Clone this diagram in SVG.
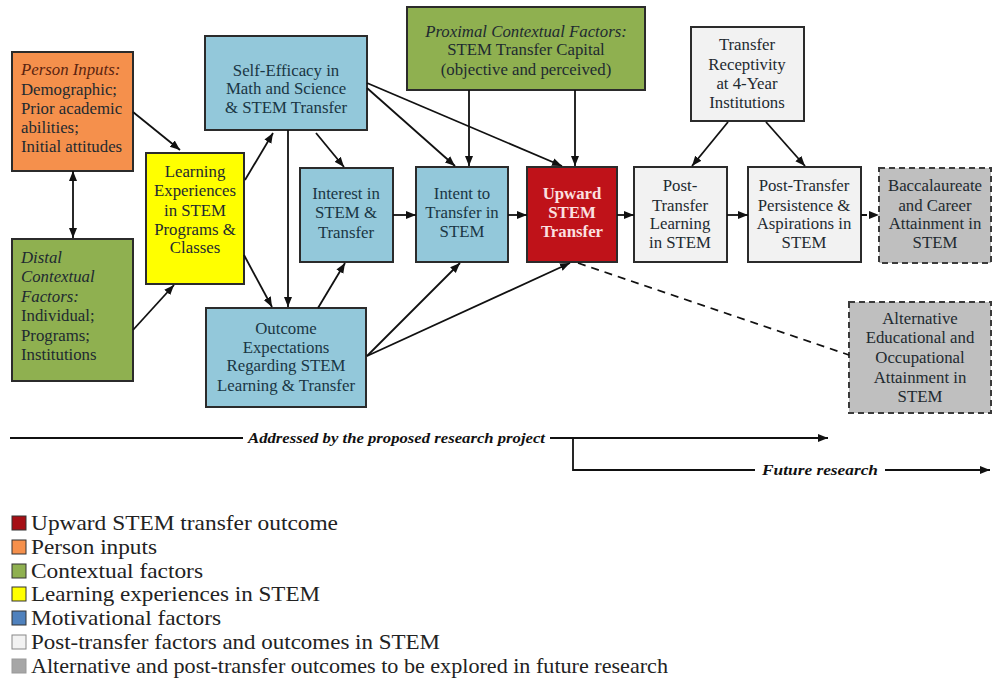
<svg xmlns="http://www.w3.org/2000/svg" width="993" height="698" viewBox="0 0 993 698">
<style>
.box{stroke:#2b2b2b;stroke-width:2}
.dash{stroke:#3a3a3a;stroke-width:2;stroke-dasharray:6,4}
.t{font-family:"Liberation Serif","Times New Roman",serif;font-size:16.8px;fill:#1e2a30}
.c{text-anchor:middle}
.i{font-style:italic}
.bt{fill:#1a3644}
.w{fill:#fbe0e0;font-weight:bold}
.ln{stroke:#111;stroke-width:1.8;fill:none}
.lg{font-family:"Liberation Serif","Times New Roman",serif;font-size:21px;fill:#222}
.rs{font-family:"Liberation Serif","Times New Roman",serif;font-size:15px;font-style:italic;font-weight:bold;fill:#111}
</style>
<defs>
<marker id="ah" viewBox="0 0 10 10" refX="10" refY="5" markerWidth="10" markerHeight="10" markerUnits="userSpaceOnUse" orient="auto-start-reverse">
<path d="M0,1 L10,5 L0,9 Z" fill="#111"/>
</marker>
</defs>
<rect width="993" height="698" fill="#fff"/>

<g id="person-inputs">
<rect class="box" x="12" y="52" width="121" height="119" fill="#f5904c"/>
<text class="t" x="21" y="75"><tspan class="i" fill="#5a2410">Person Inputs:</tspan><tspan x="21" y="95">Demographic;</tspan><tspan x="21" y="114">Prior academic</tspan><tspan x="21" y="133">abilities;</tspan><tspan x="21" y="152">Initial attitudes</tspan></text>
</g>

<g id="distal-factors">
<rect class="box" x="12" y="239" width="121" height="142" fill="#8fb050"/>
<text class="t" x="21" y="263"><tspan class="i">Distal</tspan><tspan class="i" x="21" y="282">Contextual</tspan><tspan class="i" x="21" y="302">Factors:</tspan><tspan x="21" y="321">Individual;</tspan><tspan x="21" y="341">Programs;</tspan><tspan x="21" y="360">Institutions</tspan></text>
</g>

<g id="learning-experiences">
<rect class="box" x="146" y="153" width="98" height="131" fill="#ffff00"/>
<text class="t c" x="195" y="177"><tspan x="195">Learning</tspan><tspan x="195" y="196">Experiences</tspan><tspan x="195" y="216">in STEM</tspan><tspan x="195" y="235">Programs &amp;</tspan><tspan x="195" y="253">Classes</tspan></text>
</g>

<g id="self-efficacy">
<rect class="box" x="205" y="36" width="162" height="94" fill="#93c8da"/>
<text class="t c bt" x="286" y="76"><tspan x="286">Self-Efficacy in</tspan><tspan x="286" y="94">Math and Science</tspan><tspan x="286" y="113">&amp; STEM Transfer</tspan></text>
</g>

<g id="proximal-factors">
<rect class="box" x="407" y="7" width="238" height="83" fill="#8fb050"/>
<text class="t c" x="526" y="37"><tspan class="i" x="526">Proximal Contextual Factors:</tspan><tspan x="526" y="55">STEM Transfer Capital</tspan><tspan x="526" y="75">(objective and perceived)</tspan></text>
</g>

<g id="interest">
<rect class="box" x="300" y="168" width="93" height="94" fill="#93c8da"/>
<text class="t c bt" x="346" y="199"><tspan x="346">Interest in</tspan><tspan x="346" y="218">STEM &amp;</tspan><tspan x="346" y="238">Transfer</tspan></text>
</g>

<g id="intent">
<rect class="box" x="416" y="167" width="92" height="95" fill="#93c8da"/>
<text class="t c bt" x="462" y="199"><tspan x="462">Intent to</tspan><tspan x="462" y="218">Transfer in</tspan><tspan x="462" y="237">STEM</tspan></text>
</g>

<g id="upward-transfer">
<rect class="box" x="527" y="167" width="90" height="95" fill="#bf1219"/>
<text class="t c w" x="572" y="199"><tspan x="572">Upward</tspan><tspan x="572" y="218">STEM</tspan><tspan x="572" y="237">Transfer</tspan></text>
</g>

<g id="outcome-expectations">
<rect class="box" x="206" y="308" width="160" height="99" fill="#93c8da"/>
<text class="t c bt" x="286" y="334"><tspan x="286">Outcome</tspan><tspan x="286" y="353">Expectations</tspan><tspan x="286" y="371">Regarding STEM</tspan><tspan x="286" y="391">Learning &amp; Transfer</tspan></text>
</g>

<g id="transfer-receptivity">
<rect class="box" x="691" y="27" width="113" height="94" fill="#f2f2f2"/>
<text class="t c" x="747" y="50"><tspan x="747">Transfer</tspan><tspan x="747" y="70">Receptivity</tspan><tspan x="747" y="89">at 4-Year</tspan><tspan x="747" y="108">Institutions</tspan></text>
</g>

<g id="post-transfer-learning">
<rect class="box" x="634" y="167" width="93" height="95" fill="#f2f2f2"/>
<text class="t c" x="680" y="191"><tspan x="680">Post-</tspan><tspan x="680" y="211">Transfer</tspan><tspan x="680" y="229">Learning</tspan><tspan x="680" y="248">in STEM</tspan></text>
</g>

<g id="post-transfer-persistence">
<rect class="box" x="748" y="167" width="113" height="95" fill="#f2f2f2"/>
<text class="t c" x="804" y="191"><tspan x="804">Post-Transfer</tspan><tspan x="804" y="211">Persistence &amp;</tspan><tspan x="804" y="229">Aspirations in</tspan><tspan x="804" y="248">STEM</tspan></text>
</g>

<g id="baccalaureate">
<rect class="dash" x="879" y="168" width="112" height="95" fill="#bfbfbf"/>
<text class="t c" x="935" y="191"><tspan x="935">Baccalaureate</tspan><tspan x="935" y="211">and Career</tspan><tspan x="935" y="229">Attainment in</tspan><tspan x="935" y="248">STEM</tspan></text>
</g>

<g id="alternative-attainment">
<rect class="dash" x="849" y="302" width="142" height="111" fill="#bfbfbf"/>
<text class="t c" x="920" y="324"><tspan x="920">Alternative</tspan><tspan x="920" y="343">Educational and</tspan><tspan x="920" y="363">Occupational</tspan><tspan x="920" y="383">Attainment in</tspan><tspan x="920" y="402">STEM</tspan></text>
</g>

<g id="connectors">
<path class="ln" d="M133,112 L180,150" marker-end="url(#ah)"/>
<path class="ln" d="M73,171 L73,238" marker-start="url(#ah)" marker-end="url(#ah)"/>
<path class="ln" d="M133,330 L174,285" marker-end="url(#ah)"/>
<path class="ln" d="M245,180 L273,133" marker-end="url(#ah)"/>
<path class="ln" d="M244,255 L272,307" marker-end="url(#ah)"/>
<path class="ln" d="M288,130 L288,307" marker-end="url(#ah)"/>
<path class="ln" d="M316,133 L344,167" marker-end="url(#ah)"/>
<path class="ln" d="M367,88 L455,166" marker-end="url(#ah)"/>
<path class="ln" d="M367,83 L562,166" marker-end="url(#ah)"/>
<path class="ln" d="M469,90 L469,166" marker-end="url(#ah)"/>
<path class="ln" d="M575,90 L575,166" marker-end="url(#ah)"/>
<path class="ln" d="M393,215 L416,215" marker-end="url(#ah)"/>
<path class="ln" d="M508,215 L527,215" marker-end="url(#ah)"/>
<path class="ln" d="M617,215 L634,215" marker-end="url(#ah)"/>
<path class="ln" d="M727,215 L748,215" marker-end="url(#ah)"/>
<path class="ln" d="M861,215 L879,215" stroke-dasharray="6,3" marker-end="url(#ah)"/>
<path class="ln" d="M728,122 L692,166" marker-end="url(#ah)"/>
<path class="ln" d="M766,122 L805,166" marker-end="url(#ah)"/>
<path class="ln" d="M318,308 L345,263" marker-end="url(#ah)"/>
<path class="ln" d="M367,356 L460,263" marker-end="url(#ah)"/>
<path class="ln" d="M367,356 L570,263" marker-end="url(#ah)"/>
<path class="ln" d="M578,263 L849,355" stroke-dasharray="8,6"/>
</g>

<g id="research-scope">
<path class="ln" d="M10,438 L243,438"/>
<text class="rs" x="248" y="443" textLength="297" lengthAdjust="spacingAndGlyphs">Addressed by the proposed research project</text>
<path class="ln" d="M550,438 L828,438" marker-end="url(#ah)"/>
<path class="ln" d="M573,438 L573,470 L755,470"/>
<text class="rs" x="762" y="475" textLength="116" lengthAdjust="spacingAndGlyphs">Future research</text>
<path class="ln" d="M885,470 L990,470" marker-end="url(#ah)"/>
</g>

<g id="legend">
<rect x="12" y="516" width="14" height="14" fill="#a50f15" stroke="#333"/>
<text class="lg" x="31" y="530" textLength="307" lengthAdjust="spacingAndGlyphs">Upward STEM transfer outcome</text>
<rect x="12" y="540" width="14" height="14" fill="#f5904c" stroke="#333"/>
<text class="lg" x="31" y="554" textLength="126" lengthAdjust="spacingAndGlyphs">Person inputs</text>
<rect x="12" y="564" width="14" height="14" fill="#8fb050" stroke="#333"/>
<text class="lg" x="31" y="578" textLength="172" lengthAdjust="spacingAndGlyphs">Contextual factors</text>
<rect x="12" y="587" width="14" height="14" fill="#ffff00" stroke="#333"/>
<text class="lg" x="31" y="601" textLength="289" lengthAdjust="spacingAndGlyphs">Learning experiences in STEM</text>
<rect x="12" y="611" width="14" height="14" fill="#4f81bd" stroke="#333"/>
<text class="lg" x="31" y="625" textLength="190" lengthAdjust="spacingAndGlyphs">Motivational factors</text>
<rect x="12" y="635" width="14" height="14" fill="#f2f2f2" stroke="#888"/>
<text class="lg" x="31" y="649" textLength="409" lengthAdjust="spacingAndGlyphs">Post-transfer factors and outcomes in STEM</text>
<rect x="12" y="659" width="14" height="14" fill="#a6a6a6" stroke="#999"/>
<text class="lg" x="31" y="673" textLength="637" lengthAdjust="spacingAndGlyphs">Alternative and post-transfer outcomes to be explored in future research</text>
</g>
</svg>
